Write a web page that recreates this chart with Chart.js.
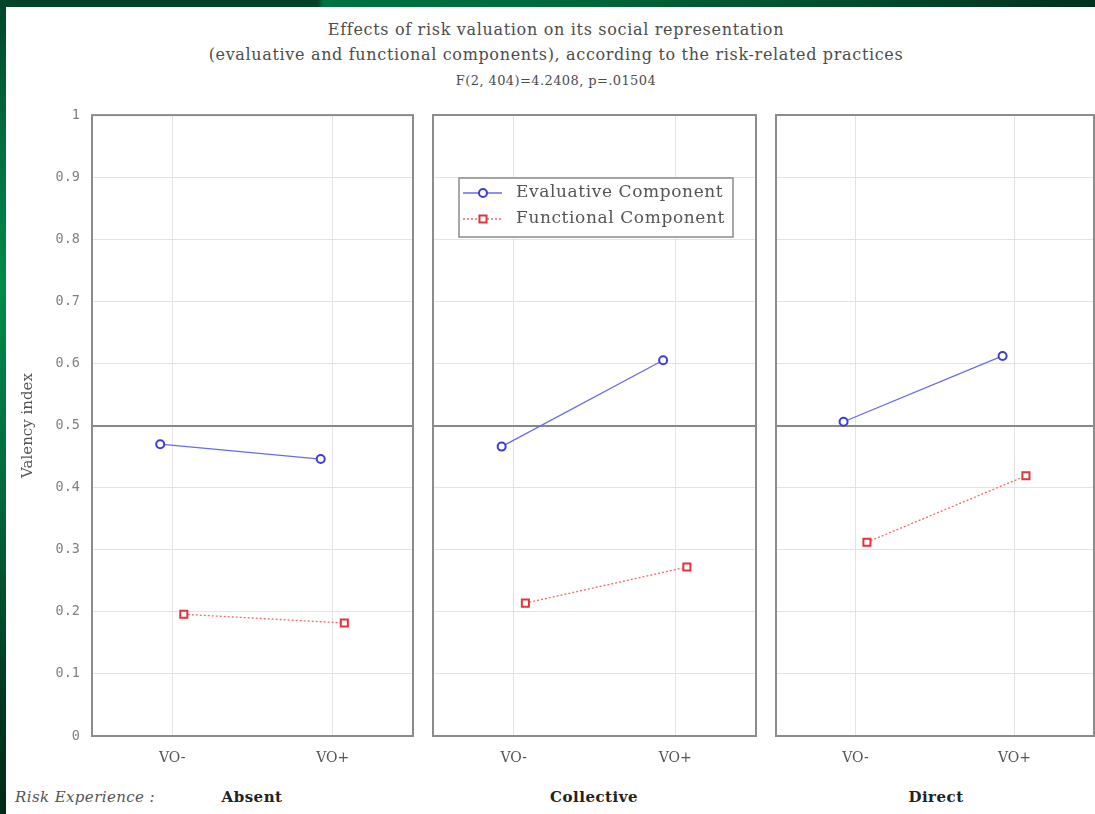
<!DOCTYPE html>
<html>
<head>
<meta charset="utf-8">
<script src="https://cdn.jsdelivr.net/npm/chart.js@4.4.1/dist/chart.umd.min.js"></script>
<style>
  html, body { margin: 0; padding: 0; background: #ffffff; }
  body { width: 1095px; height: 814px; position: relative; overflow: hidden; }
  .frame-top { position: absolute; left: 0; top: 0; width: 1095px; height: 7px;
    background: linear-gradient(to right, #00432a 0%, #00432a 29%, #00733f 29.5%, #006a3a 50%, #004a2c 80%, #00301c 100%); }
  .frame-left { position: absolute; left: 0; top: 0; width: 6px; height: 814px;
    background: linear-gradient(to bottom, #00432a 0%, #006a3a 15%, #008a4e 35%, #006a3a 60%, #003a22 85%, #002a18 100%); }
  .ttl { position: absolute; left: 0; width: 1112px; text-align: center; font-family: "DejaVu Serif", serif; color: #4d4d4d; white-space: nowrap; }
  .t1 { top: 20px; font-size: 16px; letter-spacing: 0.68px; }
  .t2 { top: 45px; font-size: 16px; letter-spacing: 0.66px; }
  .t3 { top: 73px; font-size: 13px; letter-spacing: 0.4px; }
  .bot { position: absolute; top: 788px; font-family: "DejaVu Serif", serif; white-space: nowrap; }
  .risk { left: 15px; font-style: italic; font-size: 15px; letter-spacing: 0.4px; color: #555; }
  .grp { font-weight: bold; font-size: 15px; letter-spacing: 0.5px; color: #222; transform: translateX(-50%); }
  canvas { position: absolute; }
</style>
</head>
<body>
<div class="frame-top"></div>
<div class="frame-left"></div>
<div class="ttl t1">Effects of risk valuation on its social representation</div>
<div class="ttl t2">(evaluative and functional components), according to the risk-related practices</div>
<div class="ttl t3">F(2, 404)=4.2408, p=.01504</div>

<canvas id="c1" width="420" height="685" style="left:0px; top:95px"></canvas>
<canvas id="c2" width="343" height="680" style="left:420px; top:100px"></canvas>
<canvas id="c3" width="338" height="680" style="left:763px; top:100px"></canvas>

<div class="bot risk">Risk Experience :</div>
<div class="bot grp" id="g0" style="left:252px"></div>
<div class="bot grp" id="g1" style="left:594px"></div>
<div class="bot grp" id="g2" style="left:936px"></div>

<script>
// ---------- data ----------
const categories = ['VO-', 'VO+'];
const experienceGroups = ['Absent', 'Collective', 'Direct'];
const seriesNames = ['Evaluative Component', 'Functional Component'];
const evaluativeAbsent = [0.470, 0.446];
const functionalAbsent = [0.196, 0.182];
const evaluativeCollective = [0.466, 0.605];
const functionalCollective = [0.214, 0.272];
const evaluativeDirect = [0.506, 0.612];
const functionalDirect = [0.312, 0.419];
const yTickValues = [0, 0.1, 0.2, 0.3, 0.4, 0.5, 0.6, 0.7, 0.8, 0.9, 1];
const referenceLine = 0.5;

// ---------- style ----------
const EVAL_DX = -0.075;
const FUNC_DX = 0.072;
const EVAL_COLOR = '#3d3dd6';
const EVAL_LINE = '#6a6ae6';
const FUNC_COLOR = '#e0353a';
const FUNC_LINE = '#f06a6a';
const GRID = '#e3e3e3';
const FRAME = '#8c8c8c';

experienceGroups.forEach((g, i) => { document.getElementById('g' + i).textContent = g; });

const framePlugin = {
  id: 'frame',
  beforeDatasetsDraw(chart) {
    const a = chart.chartArea, ctx = chart.ctx;
    ctx.save();
    ctx.strokeStyle = FRAME;
    ctx.lineWidth = 2;
    ctx.strokeRect(a.left, a.top, a.right - a.left, a.bottom - a.top);
    ctx.restore();
  }
};

const legendPlugin = {
  id: 'innerLegend',
  afterDraw(chart, args, opts) {
    if (!opts.show) return;
    const a = chart.chartArea, ctx = chart.ctx;
    const bx = a.left + 26, by = a.top + 63, bw = 274, bh = 59;
    ctx.save();
    ctx.fillStyle = '#ffffff';
    ctx.fillRect(bx, by, bw, bh);
    ctx.strokeStyle = '#8c8c8c';
    ctx.lineWidth = 1.5;
    ctx.strokeRect(bx, by, bw, bh);
    chart.data.datasets.forEach((ds, i) => {
      const y = by + 15 + i * 26;
      ctx.strokeStyle = ds.borderColor;
      ctx.lineWidth = ds.borderWidth;
      ctx.setLineDash(ds.borderDash || []);
      ctx.beginPath();
      ctx.moveTo(bx + 4, y);
      ctx.lineTo(bx + 43, y);
      ctx.stroke();
      ctx.setLineDash([]);
      ctx.fillStyle = ds.pointBackgroundColor;
      ctx.strokeStyle = ds.pointBorderColor;
      ctx.lineWidth = ds.pointBorderWidth;
      Chart.helpers.drawPoint(ctx, { pointStyle: ds.pointStyle, radius: ds.pointRadius, rotation: 0, borderWidth: ds.pointBorderWidth }, bx + 24, y);
      ctx.fillStyle = '#555555';
      ctx.font = '17px "DejaVu Serif", serif';
      if ('letterSpacing' in ctx) ctx.letterSpacing = '0.6px';
      ctx.textBaseline = 'middle';
      ctx.textAlign = 'left';
      ctx.fillText(ds.label, bx + 57, y);
      if ('letterSpacing' in ctx) ctx.letterSpacing = '0px';
    });
    ctx.restore();
  }
};

function makePanel(id, evalVals, funcVals, cfg) {
  return new Chart(document.getElementById(id), {
    type: 'line',
    data: {
      datasets: [
        {
          label: seriesNames[0],
          data: evalVals.map((v, i) => ({ x: i + EVAL_DX, y: v })),
          borderColor: EVAL_LINE, borderWidth: 1.3,
          pointStyle: 'circle', pointRadius: 4,
          pointBackgroundColor: '#ffffff', pointBorderColor: EVAL_COLOR, pointBorderWidth: 2,
          tension: 0
        },
        {
          label: seriesNames[1],
          data: funcVals.map((v, i) => ({ x: i + FUNC_DX, y: v })),
          borderColor: FUNC_LINE, borderWidth: 1.3, borderDash: [2, 2],
          pointStyle: 'rect', pointRadius: 5,
          pointBackgroundColor: '#ffffff', pointBorderColor: FUNC_COLOR, pointBorderWidth: 2,
          tension: 0
        }
      ]
    },
    options: {
      responsive: false,
      animation: false,
      devicePixelRatio: 1,
      layout: { padding: { top: cfg.padTop, right: cfg.padRight, left: 0, bottom: 0 } },
      plugins: {
        legend: { display: false },
        tooltip: { enabled: false },
        innerLegend: { show: !!cfg.legend }
      },
      scales: {
        x: {
          type: 'linear', min: -0.5, max: 1.5,
          afterBuildTicks: s => { s.ticks = categories.map((c, i) => ({ value: i })); },
          afterFit: s => { s.height = 44; },
          ticks: {
            callback: v => categories[v],
            color: '#555555', padding: 14, maxRotation: 0,
            font: { family: '"DejaVu Serif", serif', size: 14 }
          },
          grid: { color: GRID, lineWidth: 1, drawTicks: false },
          border: { display: false }
        },
        y: {
          min: 0, max: 1,
          afterBuildTicks: s => { s.ticks = yTickValues.map(v => ({ value: v })); },
          afterFit: s => { s.width = cfg.yWidth; },
          ticks: {
            display: !!cfg.yLabels,
            callback: v => String(Math.round(v * 10) / 10),
            color: '#808080', padding: 12,
            font: { family: '"DejaVu Sans Mono", monospace', size: 13.5 }
          },
          title: {
            display: !!cfg.yLabels, text: 'Valency index',
            color: '#555555', padding: { top: 19, bottom: 0 },
            font: { family: '"DejaVu Serif", serif', size: 15 }
          },
          grid: {
            drawTicks: false,
            color: c => (c.tick && Math.abs(c.tick.value - referenceLine) < 1e-9) ? '#888888' : GRID,
            lineWidth: c => (c.tick && Math.abs(c.tick.value - referenceLine) < 1e-9) ? 2 : 1
          },
          border: { display: false }
        }
      }
    },
    plugins: [framePlugin, legendPlugin]
  });
}

makePanel('c1', evaluativeAbsent, functionalAbsent, { yWidth: 92, padRight: 7, padTop: 15, yLabels: true });
makePanel('c2', evaluativeCollective, functionalCollective, { yWidth: 13, padRight: 6, padTop: 15, legend: true });
makePanel('c3', evaluativeDirect, functionalDirect, { yWidth: 13, padRight: 1, padTop: 15 });
</script>
</body>
</html>
